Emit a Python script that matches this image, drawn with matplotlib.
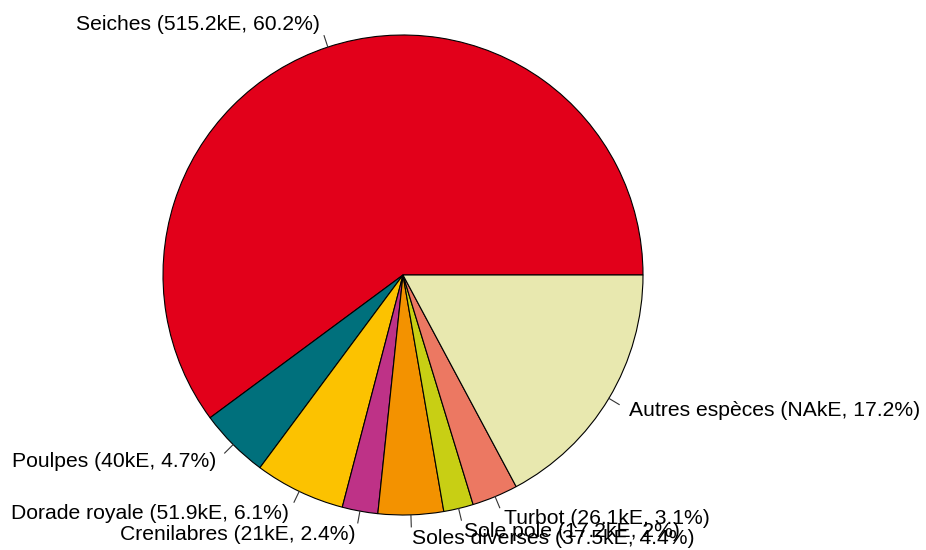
import matplotlib
matplotlib.use("Agg")
import matplotlib.pyplot as plt
import numpy as np

categories = ["Seiches", "Poulpes", "Dorade royale", "Crenilabres", "Soles diverses",
              "Sole pole", "Turbot", "Autres espèces"]
values_ke = ["515.2", "40", "51.9", "21", "37.5", "17.2", "26.1", "NA"]
percents = [60.2, 4.7, 6.1, 2.4, 4.4, 2.0, 3.1, 17.2]
pct_labels = ["60.2", "4.7", "6.1", "2.4", "4.4", "2", "3.1", "17.2"]
colors = ["#E2001A", "#00707C", "#FCC200", "#BE3287", "#F39200", "#C8CF14", "#EC7862", "#E8E8AF"]

W, H = 926, 550
fig = plt.figure(figsize=(W / 100, H / 100), dpi=100)
ax = fig.add_axes([0, 0, 1, 1])
cx, cy, r = 403, 275, 240

wedges, _ = ax.pie(percents, colors=colors, startangle=0, counterclock=True,
                   radius=r, center=(cx, cy),
                   wedgeprops=dict(edgecolor="black", linewidth=0.8))
ax.set_xlim(0, W)
ax.set_ylim(0, H)
ax.set_aspect("equal")
ax.axis("off")

total = sum(percents)
cum = 0.0
for name, v, p, pl in zip(categories, values_ke, percents, pct_labels):
    mid = np.deg2rad((cum + p / 2) / total * 360)
    cum += p
    c, s = np.cos(mid), np.sin(mid)
    ax.plot([cx + r * c, cx + 1.05 * r * c], [cy + r * s, cy + 1.05 * r * s],
            color="#333333", linewidth=0.8)
    ax.text(cx + 1.1 * r * c, cy + 1.1 * r * s, f"{name} ({v}kE, {pl}%)",
            ha="left" if c > 0 else "right", va="center",
            fontsize=15.2, family="Liberation Sans", color="black")

fig.savefig("out.png", dpi=100)
